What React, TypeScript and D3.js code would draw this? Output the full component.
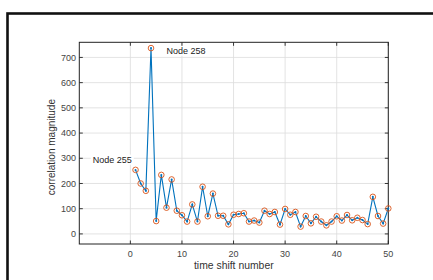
import { useEffect, useRef } from "react";
import * as d3 from "d3";

const shifts = d3.range(1, 51);
const magnitudes = [
  254, 200, 171, 737, 51, 234, 104, 216, 92, 74,
  49, 117, 49, 187, 70, 160, 72, 72, 38, 76,
  79, 82, 49, 53, 45, 92, 79, 87, 37, 99,
  76, 87, 29, 71, 42, 68, 49, 34, 49, 70,
  53, 75, 54, 64, 55, 39, 147, 71, 41, 101,
];
const xTicks = [0, 10, 20, 30, 40, 50];
const yTicks = [0, 100, 200, 300, 400, 500, 600, 700];
const notes = [
  { label: "Node 258", x: 7, y: 727 },
  { label: "Node 255", x: -7.3, y: 295 },
];

const W = 433;
const H = 280;
const font = "'Liberation Sans', Arial, Helvetica, sans-serif";

export default function App() {
  const svgRef = useRef<SVGSVGElement>(null);

  useEffect(() => {
    if (!svgRef.current) return;
    const svg = d3.select(svgRef.current);
    svg.selectAll("*").remove();

    const left = 79.3;
    const right = 388.3;
    const top = 42.3;
    const bottom = 244;

    const x = d3.scaleLinear().domain([-9.9, 50]).range([left, right]);
    const y = d3.scaleLinear().domain([-40, 760]).range([bottom, top]);

    // outer figure frame
    svg
      .append("rect")
      .attr("x", 7.5)
      .attr("y", 13.5)
      .attr("width", W)
      .attr("height", H)
      .attr("fill", "white")
      .attr("stroke", "#111")
      .attr("stroke-width", 2.6);

    const g = svg.append("g");

    // grid
    g.selectAll(".vgrid")
      .data(xTicks)
      .enter()
      .append("line")
      .attr("x1", (d) => x(d))
      .attr("x2", (d) => x(d))
      .attr("y1", top)
      .attr("y2", bottom)
      .attr("stroke", "#dcdcdc")
      .attr("stroke-width", 0.8);
    g.selectAll(".hgrid")
      .data(yTicks)
      .enter()
      .append("line")
      .attr("x1", left)
      .attr("x2", right)
      .attr("y1", (d) => y(d))
      .attr("y2", (d) => y(d))
      .attr("stroke", "#dcdcdc")
      .attr("stroke-width", 0.8);

    // annotations with white background
    notes.forEach((n) => {
      const t = g
        .append("text")
        .attr("x", x(n.x))
        .attr("y", y(n.y))
        .attr("dy", "0.35em")
        .attr("font-family", font)
        .attr("font-size", 9)
        .attr("fill", "#222")
        .text(n.label);
      const bb = (t.node() as SVGTextElement).getBBox();
      g.insert("rect", () => t.node() as any)
        .attr("x", bb.x - 2)
        .attr("y", bb.y)
        .attr("width", bb.width + 4)
        .attr("height", bb.height)
        .attr("fill", "white");
    });

    // ticks (inward, all four sides)
    const tl = 3.5;
    xTicks.forEach((d) => {
      g.append("line").attr("x1", x(d)).attr("x2", x(d)).attr("y1", bottom).attr("y2", bottom - tl).attr("stroke", "#222").attr("stroke-width", 0.9);
      g.append("line").attr("x1", x(d)).attr("x2", x(d)).attr("y1", top).attr("y2", top + tl).attr("stroke", "#222").attr("stroke-width", 0.9);
    });
    yTicks.forEach((d) => {
      g.append("line").attr("x1", left).attr("x2", left + tl).attr("y1", y(d)).attr("y2", y(d)).attr("stroke", "#222").attr("stroke-width", 0.9);
      g.append("line").attr("x1", right).attr("x2", right - tl).attr("y1", y(d)).attr("y2", y(d)).attr("stroke", "#222").attr("stroke-width", 0.9);
    });

    // box
    g.append("rect")
      .attr("x", left)
      .attr("y", top)
      .attr("width", right - left)
      .attr("height", bottom - top)
      .attr("fill", "none")
      .attr("stroke", "#222")
      .attr("stroke-width", 1);

    // tick labels
    g.selectAll(".xl")
      .data(xTicks)
      .enter()
      .append("text")
      .attr("x", (d) => x(d))
      .attr("y", 253.5)
      .attr("dy", "0.35em")
      .attr("text-anchor", "middle")
      .attr("font-family", font)
      .attr("font-size", 9)
      .attr("fill", "#444")
      .text((d) => d);
    g.selectAll(".yl")
      .data(yTicks)
      .enter()
      .append("text")
      .attr("x", 76)
      .attr("y", (d) => y(d))
      .attr("dy", "0.35em")
      .attr("text-anchor", "end")
      .attr("font-family", font)
      .attr("font-size", 9)
      .attr("fill", "#444")
      .text((d) => d);

    // axis labels
    g.append("text")
      .attr("x", (left + right) / 2)
      .attr("y", 265.5)
      .attr("dy", "0.35em")
      .attr("text-anchor", "middle")
      .attr("font-family", font)
      .attr("font-size", 10.4)
      .attr("fill", "#333")
      .text("time shift number");
    g.append("text")
      .attr("transform", `translate(51.5,${(top + bottom) / 2 + 4}) rotate(-90)`)
      .attr("dy", "0.35em")
      .attr("text-anchor", "middle")
      .attr("font-family", font)
      .attr("font-size", 10)
      .attr("fill", "#333")
      .text("correlation magnitude");

    // series
    const pts = shifts.map((s, i) => [s, magnitudes[i]] as [number, number]);
    const line = d3
      .line<[number, number]>()
      .x((d) => x(d[0]))
      .y((d) => y(d[1]));
    g.append("path")
      .attr("d", line(pts))
      .attr("fill", "none")
      .attr("stroke", "#0072BD")
      .attr("stroke-width", 1.1);
    g.selectAll(".dot")
      .data(pts)
      .enter()
      .append("circle")
      .attr("cx", (d) => x(d[0]))
      .attr("cy", (d) => y(d[1]))
      .attr("r", 1)
      .attr("fill", "#0072BD");
    g.selectAll(".ring")
      .data(pts)
      .enter()
      .append("circle")
      .attr("cx", (d) => x(d[0]))
      .attr("cy", (d) => y(d[1]))
      .attr("r", 2.8)
      .attr("fill", "none")
      .attr("stroke", "#D95319")
      .attr("stroke-width", 0.9);
  }, []);

  return (
    <div style={{ position: "absolute", left: 0, top: 0 }}>
      <svg ref={svgRef} width={W} height={H} viewBox={`0 0 ${W} ${H}`} style={{ display: "block" }} />
    </div>
  );
}
